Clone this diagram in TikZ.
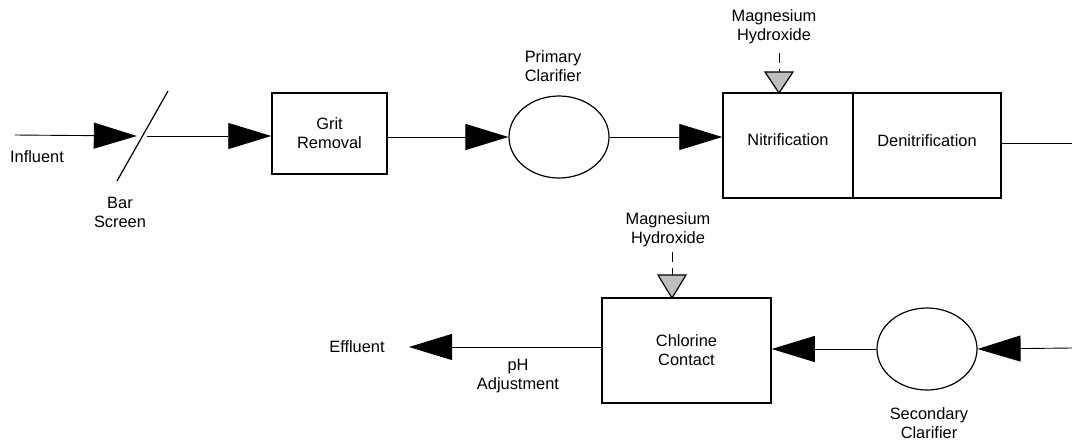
\documentclass[tikz,border=0pt]{standalone}
\usepackage{fontspec}
\setmainfont{Liberation Sans}
\usetikzlibrary{positioning,shapes.geometric,arrows.meta}

\begin{document}
\begin{tikzpicture}
    [x=1pt,y=-1pt,font=\fontsize{16.4}{19}\selectfont,
     unit/.style={draw, line width=1.5pt, inner sep=0pt, align=center},
     tank/.style={draw, line width=1.2pt, ellipse, inner sep=0pt, minimum width=100pt, minimum height=82pt},
     tag/.style={align=center, inner sep=0pt},
     pipe/.style={line width=0.9pt},
     flow/.style={pipe, -{Triangle[length=43pt,width=26pt]}},
     dose/.style={draw, line width=1.2pt, fill=gray!50},
     feed/.style={line width=0.7pt, dash pattern=on 10pt off 6pt}]
  \useasboundingbox (0,0) rectangle (1072,440);

  % top line
  \coordinate (infl) at (15,135);
  \node[tag] (influent) at (37,157) {Influent};
  \node (bar) [inner sep=0pt, minimum width=10pt] at (142,136) {};
  \draw[line width=1.2pt] ([shift={(26,-45)}]bar.center) -- ([shift={(-25,45)}]bar.center);
  \node[tag] (barlbl) at (120,212) {Bar\\Screen};
  \node[unit, minimum width=115pt, minimum height=81pt] (grit) at (329.5,133.5) {Grit\\Removal};
  \node[tank] (prim) at (559,137) {};
  \node[tag] (primlbl) at (553,66) {Primary\\Clarifier};
  \node[unit, minimum width=130pt, minimum height=105pt, text depth=12pt] (nitri) at (788,145.5) {Nitrification};
  \node[unit, minimum width=148pt, minimum height=105pt, text depth=9pt] (denit) at (927,145.5) {Denitrification};
  \coordinate (outA) at (1072,143);

  \node[tag] (mgA) at (774,27) {Magnesium\\Hydroxide};
  \coordinate (tipA) at (779,93);
  \coordinate (feedA) at (779,53);
  \draw[dose] (tipA) -- ++(-14,-21) -- ++(28,0) -- cycle;
  \draw[feed] (feedA) -- ([yshift=21pt]tipA);

  % bottom line
  \coordinate (inB) at (1072,348);
  \node[tank] (sec) at (927,349) {};
  \node[tag] (seclbl) at (929,423) {Secondary\\Clarifier};
  \node[unit, minimum width=169pt, minimum height=105pt] (chl) at (686.5,350.5) {Chlorine\\Contact};
  \node[tag] (eff) at (357,347) {Effluent};
  \coordinate (effTip) at (409,347);
  \node[tag] (phlbl) at (518,376) {pH\\Adjustment};

  \node[tag] (mgB) at (668,230) {Magnesium\\Hydroxide};
  \coordinate (tipB) at (672,298);
  \coordinate (feedB) at (672,252);
  \draw[dose] (tipB) -- ++(-14,-23) -- ++(28,0) -- cycle;
  \draw[feed] (feedB) -- ([yshift=23pt]tipB);

  % flows
  \draw[flow] (infl) -- (bar.west);
  \draw[flow] (bar.east) -- (grit.west |- bar.east);
  \draw[flow] (grit.east |- prim.west) -- (prim.west);
  \draw[flow] (prim.east) -- (prim.east -| nitri.west);
  \draw[pipe] (denit.east |- outA) -- (outA);
  \draw[flow] (inB) -- (sec.east);
  \draw[flow] (sec.west) -- (sec.west -| chl.east);
  \draw[flow] (chl.west |- effTip) -- (effTip);
\end{tikzpicture}
\end{document}
